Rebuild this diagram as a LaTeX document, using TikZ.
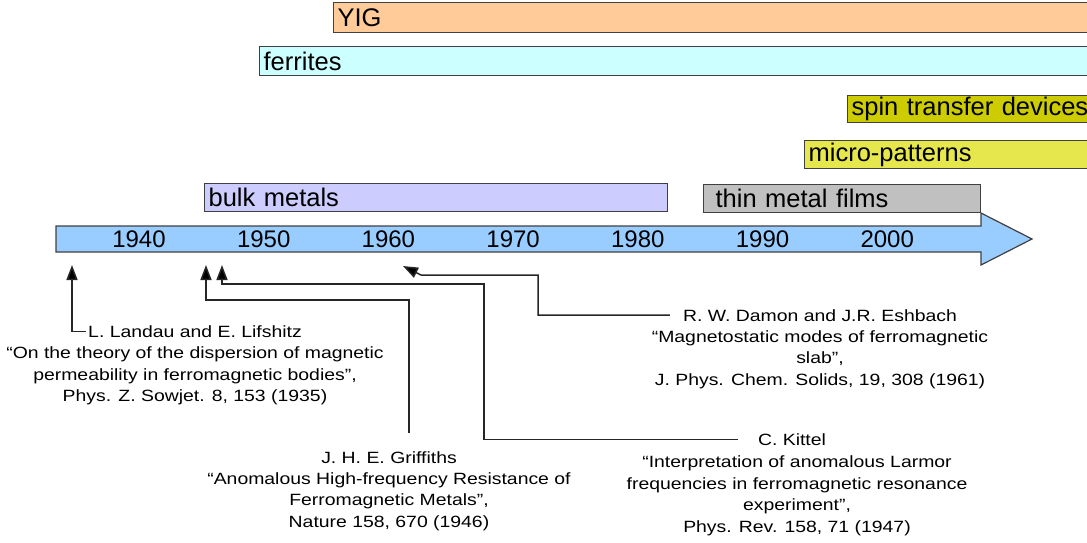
\documentclass[tikz,border=0pt]{standalone}
\usepackage{fontspec}
\setmainfont{Liberation Sans}
\newfontfamily\citefont[FakeStretch=1.19]{Liberation Sans}
\usetikzlibrary{arrows.meta,positioning}

\definecolor{yigfill}{RGB}{255,204,153}
\definecolor{ferritefill}{RGB}{204,255,255}
\definecolor{spinfill}{RGB}{204,204,0}
\definecolor{microfill}{RGB}{230,230,77}
\definecolor{bulkfill}{RGB}{204,204,255}
\definecolor{thinfill}{RGB}{192,192,192}
\definecolor{axisfill}{RGB}{153,204,255}

\begin{document}
\begin{tikzpicture}[
  x=1pt, y=-1pt,
  >={Triangle[length=15pt,width=11pt,fill=black]},
  era/.style={rectangle, draw=black!75, line width=1.2pt, anchor=north west,
              inner xsep=4pt, inner ysep=0pt, align=left,
              font=\fontsize{25.5}{28}\selectfont},
  year/.style={font=\fontsize{24}{26}\selectfont, inner sep=0pt},
  author/.style={font=\fontsize{16.3}{21.6}\citefont, inner sep=0pt, anchor=base, text depth=0pt},
  paper/.style={font=\fontsize{16.3}{21.6}\citefont, inner sep=0pt, align=center},
  citeline/.style={->, draw=black!85, line width=1.5pt},
]
\useasboundingbox (0,0) rectangle (1087,542);
\clip (0,0) rectangle (1087,542);

% time axis
\filldraw[fill=axisfill, draw=black!75, line width=1.2pt]
  (56,226) -- (981,226) -- (981,213) -- (1032,239) -- (981,265) -- (981,252) -- (56,252) -- cycle;
\foreach \yr [count=\i from 0] in {1940,1950,...,2000}
  \node[year] (y\yr) at ({139+124.7*\i},239) {\yr};

% research fields
\node[era, fill=yigfill, text width=760pt, minimum height=30pt] (yig) at (333,2) {YIG};
\node[era, fill=ferritefill, text width=830pt, minimum height=29pt] (ferrites) at (259,46) {ferrites};
\node[era, fill=spinfill, text width=240pt, minimum height=27pt] (spin) at (847,95) {spin transfer devices};
\node[era, fill=microfill, text width=290pt, minimum height=28pt] (micro) at (804,140) {micro-patterns};
\node[era, fill=bulkfill, text width=455pt, minimum height=28pt] (bulk) at (204,183) {bulk metals};
\node[era, fill=thinfill, text width=269pt, minimum height=28pt] (thin) at (703,184) {\hspace{8pt}thin metal films};

% papers
\node[author] (landau) at (195,337.5) {L. Landau and E. Lifshitz};
\node[paper, below=9pt of landau] (landaupaper)
  {“On the theory of the dispersion of magnetic\\permeability in ferromagnetic bodies”,\\Phys. Z. Sowjet. 8, 153 (1935)};

\node[author] (griffiths) at (389,463) {J. H. E. Griffiths};
\node[paper, below=9pt of griffiths] (griffithspaper)
  {“Anomalous High-frequency Resistance of\\Ferromagnetic Metals”,\\Nature 158, 670 (1946)};

\node[author] (kittel) at (792,445.5) {C. Kittel};
\node[paper, below=10pt of kittel, xshift=5pt] (kittelpaper)
  {“Interpretation of anomalous Larmor\\frequencies in ferromagnetic resonance\\experiment”,\\Phys. Rev. 158, 71 (1947)};

\node[author] (damon) at (820,321) {R. W. Damon and J.R. Eshbach};
\node[paper, below=9pt of damon] (damonpaper)
  {“Magnetostatic modes of ferromagnetic\\slab”,\\J. Phys. Chem. Solids, 19, 308 (1961)};

% pointers to the axis
\coordinate (landautip) at (72,265);
\coordinate (griffithstip) at (206,265);
\coordinate (kitteltip) at (222,265);
\coordinate (damontip) at (403,266);
\coordinate (griffithsbend) at (409,300);
\coordinate (kittelbend) at (484,284);
\coordinate (damonbend) at (538,275);
\coordinate (damonknee) at (421,275);

\draw[citeline, shorten <=2pt] (landau.west) -| (landautip);
\draw[citeline] ([yshift=18pt]griffiths.north -| griffithsbend) -- (griffithsbend) -| (griffithstip);
\draw[citeline, shorten <=20pt] (kittel.west) -| (kittelbend) -| (kitteltip);
\draw[citeline, shorten <=13pt] (damon.west) -| (damonbend) -- (damonknee) -- (damontip);

\end{tikzpicture}
\end{document}
